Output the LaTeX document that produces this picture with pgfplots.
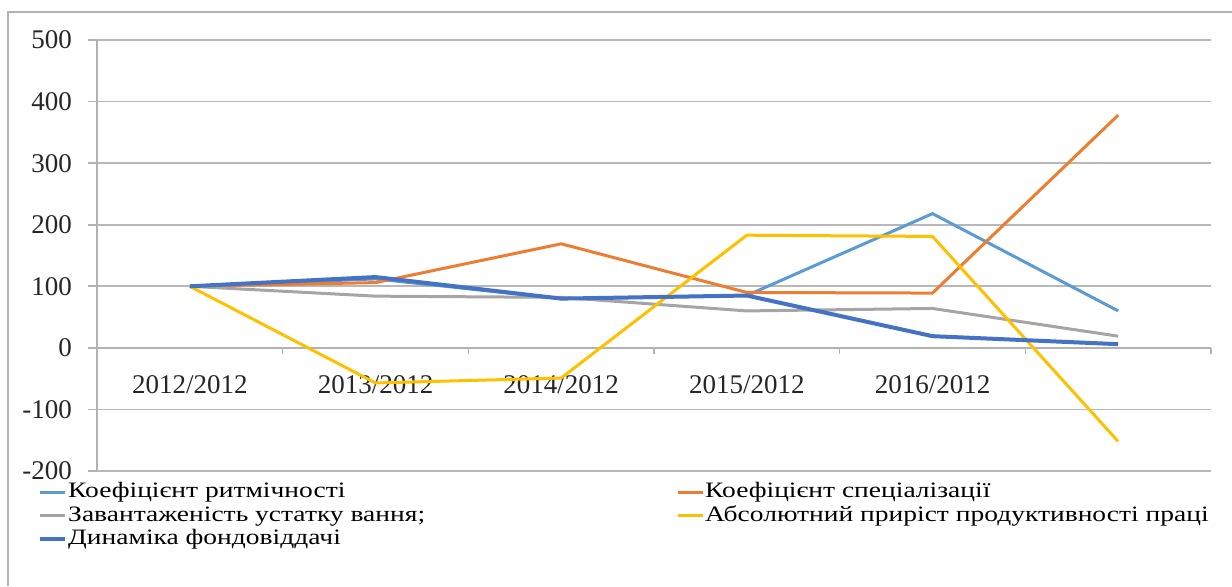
\documentclass[border=0pt]{standalone}
\usepackage{fontspec}
\setmainfont{Liberation Serif}
\newfontfamily\legfont[FakeStretch=1.25]{Liberation Serif}
\usepackage{pgfplots}
\pgfplotsset{compat=1.18}
\definecolor{cA}{HTML}{5B9BD5}
\definecolor{cB}{HTML}{ED7D31}
\definecolor{cC}{HTML}{A5A5A5}
\definecolor{cD}{HTML}{FFC000}
\definecolor{cE}{HTML}{4472C4}
\begin{document}
\begin{tikzpicture}
\useasboundingbox (0,0) rectangle (616pt,293pt);
\draw[black!30, line width=0.8pt] (4pt,0) -- (4pt,287pt) -- (616pt,287pt);
\begin{axis}[
  at={(48.5pt,57.5pt)}, anchor=south west,
  scale only axis, width=557pt, height=215.5pt,
  xmin=-0.5, xmax=5.5, ymin=-200, ymax=500,
  axis x line*=middle, axis y line*=left,
  axis line style={black!30, line width=0.8pt},
  ytick={-200,-100,...,500},
  ymajorgrids, grid style={black!28, line width=0.8pt},
  ytick align=outside, xtick align=outside,
  major tick length=4.5pt, minor tick length=3pt,
  ytick style={black!30, line width=0.8pt},
  xtick={0,...,4},
  xticklabels={2012/2012,2013/2012,2014/2012,2015/2012,2016/2012},
  major x tick style={draw=none},
  minor xtick={0.5,1.5,2.5,3.5,4.5,5.5},
  minor x tick style={black!30, line width=0.8pt},
  ticklabel style={font=\fontsize{13.5}{16}\selectfont, text=black!85},
  /pgf/number format/assume math mode=true,
  xticklabel style={yshift=-6pt},
  yticklabel style={xshift=-4.5pt},
  legend columns=2,
  legend cell align=left,
  legend image code/.code={\draw[#1] (0pt,0pt) -- (12.5pt,0pt);},
  legend style={at={(axis description cs:-0.0585,-0.015)}, anchor=north west,
    draw=none, fill=none, font=\legfont\fontsize{11}{13}\selectfont,
    row sep=1.2pt, column sep=0pt,
    nodes={inner xsep=0.5pt, inner ysep=0pt, text height=8pt, text depth=2.5pt}},
]
\addplot[cA, line width=1.5pt] coordinates {(0,100) (1,112) (2,80) (3,85) (4,218) (5,60)};
\addlegendentry{\makebox[303.5pt][l]{Коефіцієнт ритмічності}}
\addplot[cB, line width=1.5pt] coordinates {(0,100) (1,106) (2,169) (3,90) (4,89) (5,378)};
\addlegendentry{Коефіцієнт спеціалізації}
\addplot[cC, line width=1.5pt] coordinates {(0,100) (1,84) (2,82) (3,60) (4,64) (5,19)};
\addlegendentry{\makebox[303.5pt][l]{Завантаженість устатку вання;}}
\addplot[cD, line width=1.5pt] coordinates {(0,100) (1,-57) (2,-49) (3,183) (4,181) (5,-152)};
\addlegendentry{Абсолютний приріст продуктивності праці}
\addplot[cE, line width=2pt] coordinates {(0,100) (1,115) (2,80) (3,85) (4,19) (5,6)};
\addlegendentry{\makebox[303.5pt][l]{Динаміка фондовіддачі}}
\end{axis}
\end{tikzpicture}
\end{document}
